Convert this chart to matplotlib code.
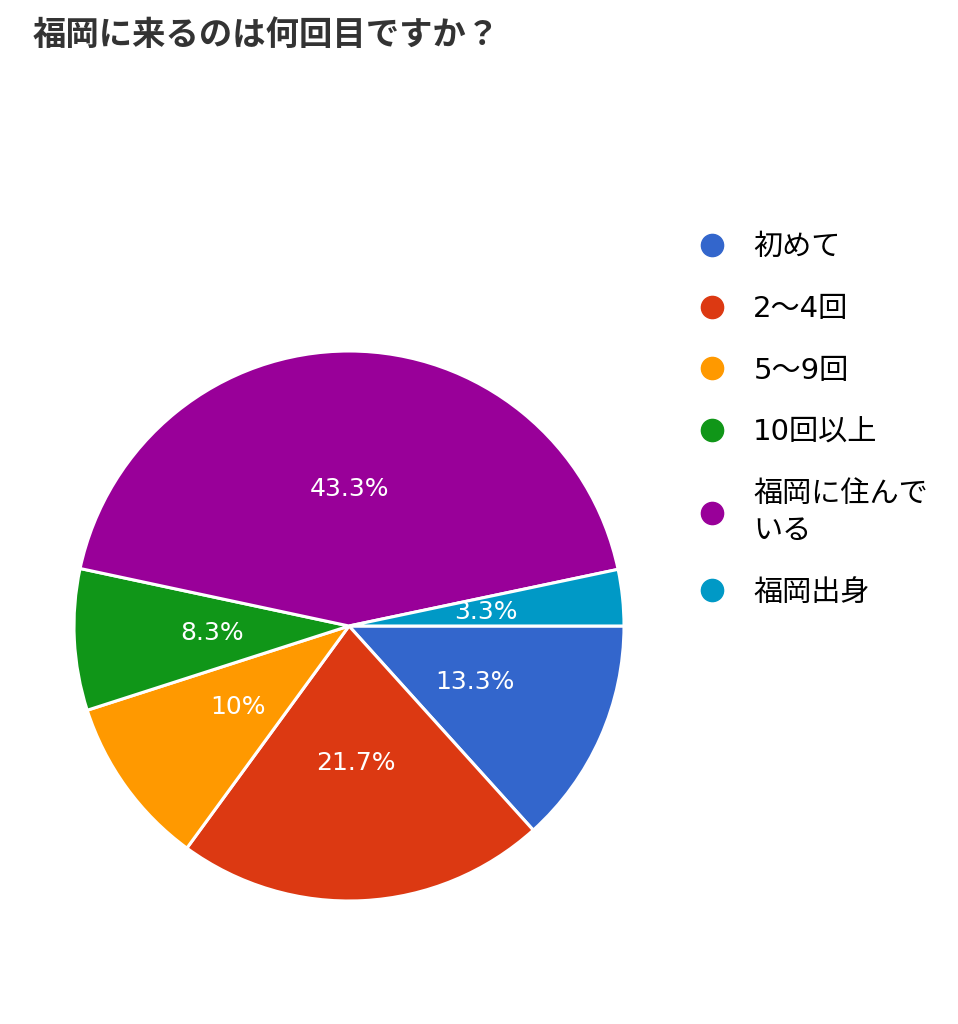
import matplotlib
matplotlib.use("Agg")
import matplotlib.pyplot as plt
from matplotlib.lines import Line2D

plt.rcParams['font.family'] = ['Noto Sans CJK JP', 'DejaVu Sans']

# survey answers (share of respondents, %)
labels = ['初めて', '2〜4回', '5〜9回', '10回以上', '福岡に住んで\nいる', '福岡出身']
shares = [13.3, 21.7, 10.0, 8.3, 43.3, 3.3]
colors = ['#3366cc', '#dc3912', '#ff9900', '#109618', '#990099', '#0099c6']
title = '福岡に来るのは何回目ですか？'

W, H = 958, 1024
fig = plt.figure(figsize=(W / 100, H / 100), dpi=100)

# pie centre (349, 626) px, radius 275 px
cx, cy, r = 349, 626, 275
ax = fig.add_axes([(cx - r) / W, (H - cy - r) / H, 2 * r / W, 2 * r / H])

def fmt(p):
    s = f'{p:.1f}'
    if s.endswith('.0'):
        s = s[:-2]
    return s + '%'

wedges, texts, autotexts = ax.pie(
    shares, colors=colors, startangle=0, counterclock=False,
    autopct=fmt, pctdistance=0.5, radius=1.0,
    wedgeprops=dict(edgecolor='white', linewidth=2.2),
    textprops=dict(color='white', fontsize=18, family='DejaVu Sans'))
ax.set_xlim(-1, 1)
ax.set_ylim(-1, 1)
ax.set_aspect('equal')
ax.axis('off')

fig.text(33 / W, 1 - 35 / H, title, fontsize=24, fontweight='bold',
         color='#333333', ha='left', va='center')

handles = [Line2D([], [], linestyle='none', marker='o', markersize=16,
                  markerfacecolor=c, markeredgecolor=c) for c in colors]
leg = fig.legend(handles, labels, loc='upper left',
                 bbox_to_anchor=(697 / W, 1 - 233 / H),
                 frameon=False, fontsize=21, labelspacing=1.16,
                 prop=dict(family=['DejaVu Sans', 'Noto Sans CJK JP'], size=21),
                 handlelength=1.0, handletextpad=0.93,
                 borderpad=0, borderaxespad=0)
for t in leg.get_texts():
    t.set_linespacing(1.38)

fig.savefig('out.png', dpi=100, facecolor='white')
